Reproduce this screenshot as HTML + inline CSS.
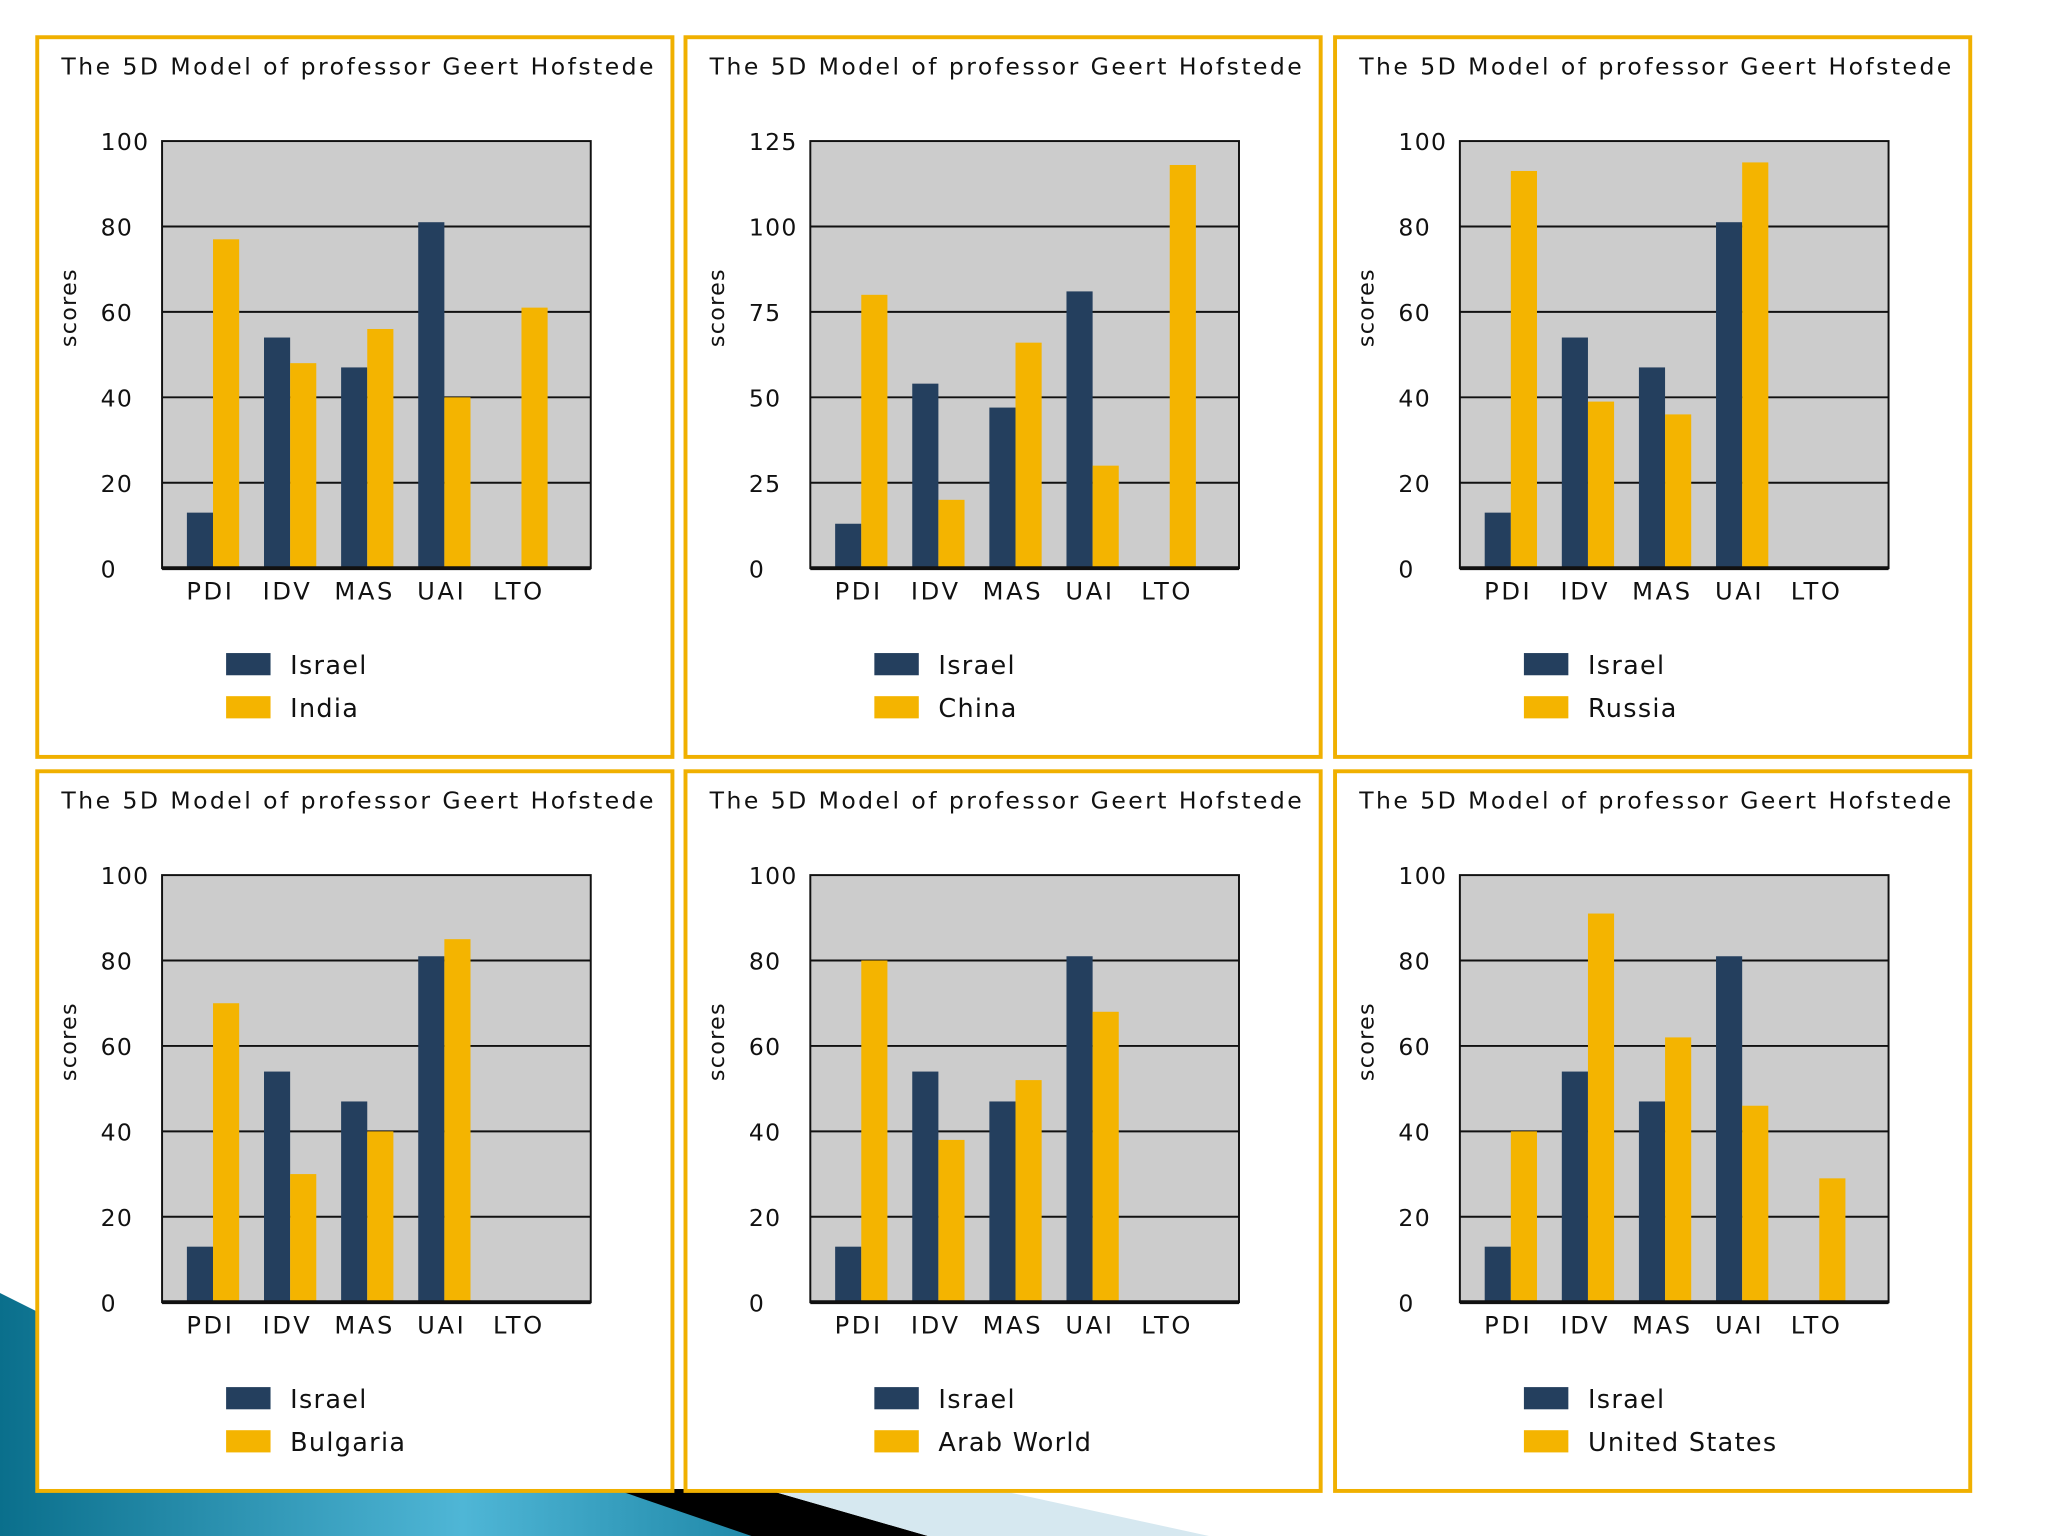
<!DOCTYPE html>
<html><head><meta charset="utf-8"><style>
html,body{margin:0;padding:0;background:#fff;}
svg{display:block;}
text{font-family:"DejaVu Sans","Liberation Sans",sans-serif;fill:#111;}
</style></head><body>
<svg id="root" width="2048" height="1536" viewBox="0 0 1567 1176" preserveAspectRatio="none" xmlns="http://www.w3.org/2000/svg">
<defs><linearGradient id="teal" x1="0" y1="0" x2="1" y2="0"><stop offset="0" stop-color="#0a6f8c"/><stop offset="0.6" stop-color="#4fb6d6"/><stop offset="1" stop-color="#1d86a6"/></linearGradient></defs>
<g>
<polygon points="0,990 30,1005 590,1176 0,1176" fill="url(#teal)"/>
<polygon points="470,1140 585,1140 710,1176 575,1176" fill="#000"/>
<polygon points="585,1140 760,1140 925,1176 710,1176" fill="#d6e8f0"/>
</g>
<g id="panels"></g>
</svg>
<script>
const categories=["PDI","IDV","MAS","UAI","LTO"];
const israel=[13,54,47,81,null];
const india=[77,48,56,40,61];
const china=[80,20,66,30,118];
const russia=[93,39,36,95,null];
const bulgaria=[70,30,40,85,null];
const arab=[80,38,52,68,null];
const usa=[40,91,62,46,29];
const countryNames=["India","China","Russia","Bulgaria","Arab World","United States"];
const countrySeries=[india,china,russia,bulgaria,arab,usa];
const yTicks=[[0,20,40,60,80,100],[0,25,50,75,100,125],[0,20,40,60,80,100],[0,20,40,60,80,100],[0,20,40,60,80,100],[0,20,40,60,80,100]];
const NS="http://www.w3.org/2000/svg";
function mk(tag,attrs,parent){const e=document.createElementNS(NS,tag);for(const k in attrs)e.setAttribute(k,attrs[k]);parent.appendChild(e);return e;}
const root=document.getElementById('panels');
const px=[27,523,1020],py=[27,589];
countryNames.forEach((name,i)=>{
  const ox=px[i%3],oy=py[Math.floor(i/3)];
  const g=mk('g',{transform:`translate(${ox},${oy})`},root);
  
  
  const b=mk('rect',{x:1.5,y:1.5,width:486,height:551,fill:'#fff',stroke:'#f0b000','stroke-width':3},g);
  
  const t=mk('text',{x:20,y:30,'font-size':18,textLength:453,lengthAdjust:'spacing'},g);t.textContent="The 5D Model of professor Geert Hofstede";
  
  const L=97,R=425,T=81,B=408;
  const ticks=yTicks[i],ymax=ticks[ticks.length-1];
  const y=v=>B-(v/ymax)*(B-T);
  const pa=mk('rect',{x:L,y:T,width:R-L,height:B-T,fill:'#cccccc'},g);
  
  ticks.forEach(v=>{
    if(v>0&&v<ymax){const l=mk('line',{x1:L,x2:R,y1:y(v),y2:y(v),stroke:'#111','stroke-width':1.5},g);}
    const tl=mk('text',{x:50,y:y(v)+7,'font-size':18,'letter-spacing':1},g);tl.textContent=v;
    
  });
  const yl=mk('text',{x:0,y:0,'font-size':17,'text-anchor':'middle','letter-spacing':1,transform:`translate(31,${(T+B)/2-36}) rotate(-90)`},g);yl.textContent="scores";
  
  const step=59,bw=20,start=L+19;
  const ser=countrySeries[i];
  categories.forEach((c,j)=>{
    const gx=start+j*step;
    [[israel[j],'#243f5e','bar-israel-'],[ser[j],'#f4b400','bar-'+name.toLowerCase().replace(/ /g,'-')+'-']].forEach((s,k)=>{
      if(s[0]==null)return;
      const r=mk('rect',{x:gx+k*bw,y:y(s[0]),width:bw,height:B-y(s[0]),fill:s[1]},g);
      
    });
    const cl=mk('text',{x:gx+bw-2,y:B+24,'text-anchor':'middle','font-size':18.5,'letter-spacing':2},g);cl.textContent=c;
    
  });
  const fr=mk('rect',{x:L,y:T,width:R-L,height:B-T,fill:'none',stroke:'#111','stroke-width':1.5},g);
  
  const ax=mk('line',{x1:L,x2:R,y1:B,y2:B,stroke:'#111','stroke-width':3},g);
  
  [['Israel','#243f5e'],[name,'#f4b400']].forEach((e,k)=>{
    const lg=mk('g',{},g);
    mk('rect',{x:146,y:473+k*33,width:34,height:17,fill:e[1]},lg);
    const lt=mk('text',{x:195,y:489+k*33,'font-size':19.5,'letter-spacing':1},lg);lt.textContent=e[0];
  });
});
</script>
</body></html>
